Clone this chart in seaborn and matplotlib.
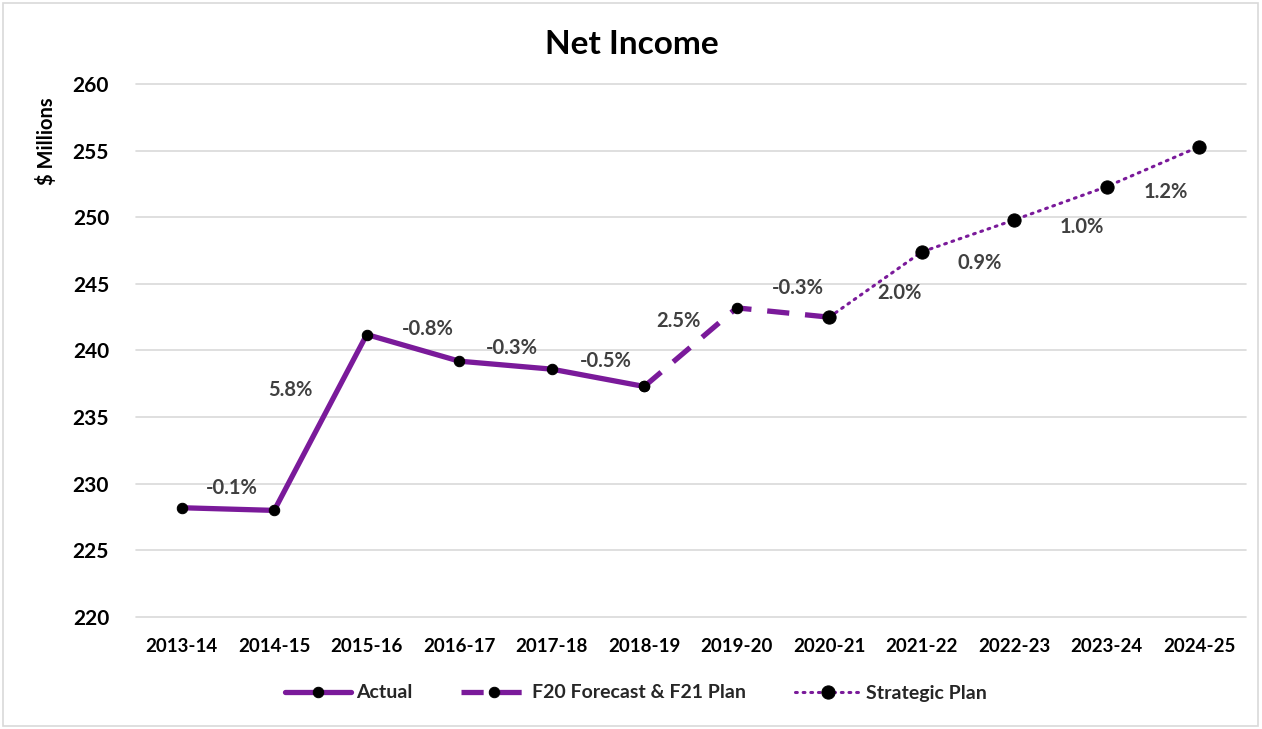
import matplotlib
matplotlib.use("Agg")
import matplotlib.pyplot as plt
import seaborn as sns
import pandas as pd
from matplotlib.patches import Rectangle

# ---- data ----
periods = ["2013-14", "2014-15", "2015-16", "2016-17", "2017-18", "2018-19",
           "2019-20", "2020-21", "2021-22", "2022-23", "2023-24", "2024-25"]
actual_periods = periods[0:6]
actual_values = [228.2, 228.0, 241.2, 239.2, 238.6, 237.3]
forecast_periods = periods[5:8]
forecast_values = [237.3, 243.2, 242.5]
strategic_periods = periods[7:12]
strategic_values = [242.5, 247.4, 249.8, 252.3, 255.3]
growth_labels = ["-0.1%", "5.8%", "-0.8%", "-0.3%", "-0.5%", "2.5%",
                 "-0.3%", "2.0%", "0.9%", "1.0%", "1.2%"]
y_ticks = [220, 225, 230, 235, 240, 245, 250, 255, 260]

# label anchor positions (category units / data units)
label_x = [0.54, 1.17, 2.66, 3.57, 4.58, 5.37, 6.66, 7.76, 8.63, 9.73, 10.64]
label_y = [229.7, 237.0, 241.65, 240.2, 239.2, 242.2, 244.7, 244.35, 246.6, 249.3, 251.9]

sns.set_theme(style="white")
plt.rcParams['font.family'] = ['Lato', 'DejaVu Sans']
plt.rcParams['font.weight'] = 'bold'

W, H = 1262, 729
fig = plt.figure(figsize=(W / 100, H / 100), dpi=100)
ax = fig.add_axes([135.5 / W, 1 - 617 / H, 1110 / W, 533 / H])

pos = {p: i for i, p in enumerate(periods)}
df_a = pd.DataFrame({"x": [pos[p] for p in actual_periods], "y": actual_values})
df_f = pd.DataFrame({"x": [pos[p] for p in forecast_periods], "y": forecast_values})
df_s = pd.DataFrame({"x": [pos[p] for p in strategic_periods], "y": strategic_values})

purple = "#7A1A9A"

sns.lineplot(data=df_a, x="x", y="y", ax=ax, color=purple, linewidth=3.8,
             marker="o", markersize=7.5, markerfacecolor="black",
             markeredgecolor="black", label="Actual", zorder=3)
sns.lineplot(data=df_f, x="x", y="y", ax=ax, color=purple, linewidth=3.8,
             dashes=(4.2, 3.0), marker="o", markersize=7.5,
             markerfacecolor="black", markeredgecolor="black",
             label="F20 Forecast & F21 Plan", zorder=3)
sns.lineplot(data=df_s, x="x", y="y", ax=ax, color=purple, linewidth=2.2,
             dashes=(0.6, 1.9), dash_capstyle="round", marker="o",
             markersize=9.5, markerfacecolor="black", markeredgecolor="black",
             label="Strategic Plan", zorder=4)

for tx, ty, t in zip(label_x, label_y, growth_labels):
    ax.text(tx, ty, t, ha="center", va="center", fontsize=14.5,
            fontweight="bold", color="#404040", zorder=5)

ax.set_xlim(-0.5, len(periods) - 0.5)
ax.set_ylim(220, 260)
ax.set_xticks(range(len(periods)))
ax.set_xticklabels(periods)
ax.set_yticks(y_ticks)
ax.set_yticklabels([str(v) for v in y_ticks])
ax.tick_params(axis="x", length=0, pad=15, labelsize=13.5, colors="black")
ax.tick_params(axis="y", length=0, pad=19, labelsize=15, colors="black")
for lab in ax.get_xticklabels() + ax.get_yticklabels():
    lab.set_fontweight("bold")
ax.grid(axis="y", color="#D9D9D9", linewidth=1.2)
ax.grid(axis="x", visible=False)
for gl in ax.get_ygridlines():
    gl.set_clip_on(False)
for s in ax.spines.values():
    s.set_visible(False)
ax.set_xlabel("")
ax.set_ylabel("")

ax.get_legend().remove()
handles, labels = ax.get_legend_handles_labels()
fig.legend(handles, labels, loc="center", bbox_to_anchor=(0.504, 1 - 693 / H),
           ncol=3, frameon=False, handlelength=3.4,
           handletextpad=0.25, columnspacing=2.5,
           prop={"weight": "bold", "size": 14})

fig.text(0.501, 1 - 45 / H, "Net Income", ha="center", va="center",
         fontsize=24, fontweight="bold", color="black")
fig.text(47 / W, 1 - 141 / H, "$ Millions", ha="center", va="center",
         rotation=90, fontsize=14.5, fontweight="bold", color="black")

fig.patches.append(Rectangle((3 / W, 3 / H), 1255 / W, 723 / H,
                             transform=fig.transFigure, fill=False,
                             edgecolor="#D9D9D9", linewidth=1.2))

fig.savefig("out.png", dpi=100, facecolor="white")
